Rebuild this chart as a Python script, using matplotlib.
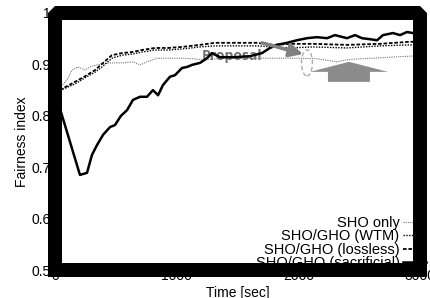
import matplotlib.pyplot as plt
from matplotlib.patches import Ellipse, FancyArrow

plt.rcParams['font.family'] = ['Liberation Sans', 'DejaVu Sans']

# time [sec] and fairness index
t_only = [0, 99, 140, 189, 247, 288, 345, 452, 559, 641, 699, 756, 838, 921, 1027,
          1134, 1216, 1381, 1660, 1849, 2014, 2153, 2318, 2400, 2507, 2614, 2753, 2918, 3000]
f_only = [0.845, 0.870, 0.889, 0.895, 0.889, 0.895, 0.899, 0.903, 0.903, 0.905, 0.899,
          0.905, 0.912, 0.912, 0.912, 0.911, 0.909, 0.912, 0.912, 0.912, 0.912, 0.911,
          0.905, 0.909, 0.911, 0.912, 0.914, 0.916, 0.918]

t_gho = [0, 164, 247, 329, 386, 468, 551, 633, 715, 822, 929, 1044, 1192, 1315, 1521,
         1660, 1792, 1932, 2121, 2400, 2671, 2918, 3000]
f_wtm = [0.845, 0.862, 0.874, 0.885, 0.895, 0.912, 0.918, 0.920, 0.924, 0.928, 0.928,
         0.930, 0.934, 0.936, 0.936, 0.936, 0.934, 0.932, 0.934, 0.932, 0.936, 0.938, 0.938]
f_lossless = [0.845, 0.866, 0.877, 0.889, 0.901, 0.918, 0.922, 0.924, 0.928, 0.932, 0.932,
              0.934, 0.938, 0.942, 0.942, 0.942, 0.938, 0.940, 0.940, 0.938, 0.940, 0.944, 0.944]

t_sac = [0, 205, 263, 304, 345, 395, 452, 493, 542, 592, 641, 699, 756, 805, 847, 888,
         945, 986, 1044, 1085, 1126, 1192, 1249, 1290, 1356, 1479, 1603, 1701, 1767, 1825,
         1907, 1989, 2071, 2153, 2236, 2301, 2400, 2466, 2523, 2589, 2647, 2696, 2778,
         2836, 2893, 2942, 3000]
f_sac = [0.846, 0.685, 0.689, 0.724, 0.743, 0.763, 0.778, 0.782, 0.800, 0.811, 0.831,
         0.837, 0.837, 0.850, 0.840, 0.860, 0.876, 0.879, 0.893, 0.895, 0.899, 0.903,
         0.912, 0.922, 0.914, 0.914, 0.916, 0.922, 0.932, 0.938, 0.942, 0.947, 0.951,
         0.953, 0.951, 0.957, 0.951, 0.957, 0.951, 0.949, 0.947, 0.957, 0.961, 0.957,
         0.963, 0.961, 0.961]

yticks = [0.5, 0.6, 0.7, 0.8, 0.9, 1.0]
ylabels = ['0.5', '0.6', '0.7', '0.8', '0.9', '1']
xticks = [0, 1000, 2000, 3000]

fig = plt.figure(figsize=(4.3, 2.98), dpi=100)
ax = fig.add_axes([55/430, 28/298, 365/430, 257/298])

ax.plot(t_only, f_only, color='#777777', lw=0.8, ls=(0, (1, 1)), label='SHO only')
ax.plot(t_gho, f_wtm, color='black', lw=1.0, ls=(0, (1, 1)), label='SHO/GHO (WTM)')
ax.plot(t_gho, f_lossless, color='black', lw=1.3, ls=(0, (2, 1)), label='SHO/GHO (lossless)')
ax.plot(t_sac, f_sac, color='black', lw=1.8, label='SHO/GHO (sacrificial)')

ax.set_xlim(0, 3000)
ax.set_ylim(0.5, 1.0)
ax.set_xticks(xticks)
ax.set_yticks(yticks)
ax.set_yticklabels(ylabels)
ax.tick_params(axis='both', length=0, labelsize=10)
ax.tick_params(axis='x', pad=-0.8)
ax.tick_params(axis='y', pad=3)
for s in ax.spines.values():
    s.set_visible(False)

ax.set_xlabel('Time [sec]', fontsize=10, labelpad=2)
ax.set_ylabel('Fairness index', fontsize=10, labelpad=2)

ax.legend(loc='lower right', bbox_to_anchor=(1.016, 0.0), frameon=False,
          markerfirst=False, fontsize=10.5, borderpad=0, borderaxespad=0,
          handlelength=1.6, handletextpad=0.2, labelspacing=-0.05)

# annotation
ax.text(1455, 0.916, 'Proposal', family=['Open Sans', 'DejaVu Sans'], weight='bold',
        fontsize=10, color='#707070', ha='center', va='center', zorder=1.5)
ax.annotate('', xy=(2038, 0.920), xytext=(1701, 0.942),
            arrowprops=dict(arrowstyle='-|>,head_length=0.8,head_width=0.4',
                            color='#808080', lw=2.5, shrinkA=0, shrinkB=0))
ax.add_patch(Ellipse((2071, 0.903), 90, 0.0506, fill=False, ec='#aaaaaa',
                     ls=(0, (3, 2)), lw=1.0))
ax.add_patch(FancyArrow(2416, 0.866, 0, 0.039, width=345, head_width=641,
                        head_length=0.0195, length_includes_head=True,
                        color='#8c8c8c', lw=0))

# heavy frame with bevelled top corners
ax.plot([0, 0, 1, 1], [0, 1, 1, 0], transform=ax.transAxes, color='black', lw=10.08,
        solid_joinstyle='bevel', solid_capstyle='projecting', clip_on=False, zorder=10)
ax.plot([0, 1], [0, 0], transform=ax.transAxes, color='black', lw=10.08,
        solid_capstyle='projecting', clip_on=False, zorder=10)

fig.savefig('out.png', dpi=100)
